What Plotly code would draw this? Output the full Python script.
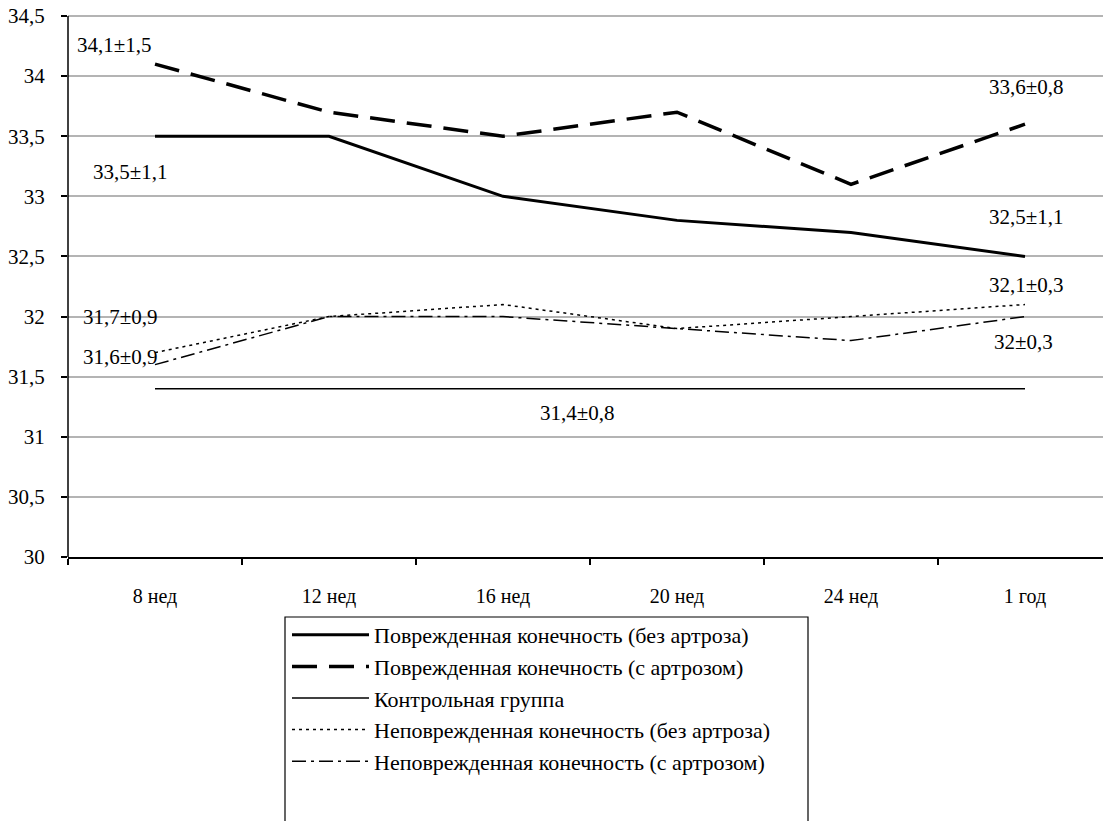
import plotly.graph_objects as go

categories = ["8 нед", "12 нед", "16 нед", "20 нед", "24 нед", "1 год"]
injured_no_arthrosis = [33.5, 33.5, 33.0, 32.8, 32.7, 32.5]
injured_arthrosis = [34.1, 33.7, 33.5, 33.7, 33.1, 33.6]
control_group = [31.4, 31.4, 31.4, 31.4, 31.4, 31.4]
uninjured_no_arthrosis = [31.7, 32.0, 32.1, 31.9, 32.0, 32.1]
uninjured_arthrosis = [31.6, 32.0, 32.0, 31.9, 31.8, 32.0]

series_names = [
    "Поврежденная конечность (без артроза)",
    "Поврежденная конечность (с артрозом)",
    "Контрольная группа",
    "Неповрежденная конечность (без артроза)",
    "Неповрежденная конечность (с артрозом)",
]

y_tickvals = [30, 30.5, 31, 31.5, 32, 32.5, 33, 33.5, 34, 34.5]
y_ticktext = ["30", "30,5", "31", "31,5", "32", "32,5", "33", "33,5", "34", "34,5"]

label_texts = ["34,1±1,5", "33,5±1,1", "31,7±0,9", "31,6±0,9", "31,4±0,8",
               "33,6±0,8", "32,5±1,1", "32,1±0,3", "32±0,3"]
label_x = [-0.23, -0.14, -0.20, -0.20, 2.43, 5.01, 5.01, 5.01, 4.99]
label_y = [34.26, 33.20, 32.00, 31.66, 31.20, 33.91, 32.83, 32.26, 31.79]

FONT = "Times New Roman, Liberation Serif, serif"

styles = [
    dict(width=3, dash="solid"),
    dict(width=3.5, dash="25px,12px"),
    dict(width=1.5, dash="solid"),
    dict(width=1.5, dash="3px,4px"),
    dict(width=1.5, dash="14px,5px,3px,5px"),
]
all_series = [injured_no_arthrosis, injured_arthrosis, control_group,
              uninjured_no_arthrosis, uninjured_arthrosis]

fig = go.Figure()
xs = list(range(len(categories)))
for name, vals, st in zip(series_names, all_series, styles):
    fig.add_trace(go.Scatter(
        x=xs, y=vals, mode="lines", name=name, legendgroup=name,
        line=dict(color="black", width=st["width"], dash=st["dash"]),
    ))

for t, x, y in zip(label_texts, label_x, label_y):
    fig.add_annotation(x=x, y=y, text=t, showarrow=False,
                       font=dict(family=FONT, size=21, color="black"),
                       xanchor="center", yanchor="middle")

W, H = 1103, 821
YTOP_PX = 14          # plot area top (pixel) — slightly above the 34,5 gridline
PX_PER_UNIT = 120.2
y_top = 34.5 + (16 - YTOP_PX) / PX_PER_UNIT
L = 68
T = YTOP_PX
R = 0
B = H - 557
pw = W - L - R
ph = H - T - B

def px_to_paper_x(p):
    return (p - L) / pw

def py_to_paper_y(p):
    return (H - B - p) / ph

xrange_ = [-0.5, -0.5 + pw / 174.0]

fig.add_shape(type="rect", xref="paper", yref="paper",
              x0=px_to_paper_x(285), x1=px_to_paper_x(808),
              y0=py_to_paper_y(617), y1=py_to_paper_y(850),
              line=dict(color="black", width=1.2), fillcolor="rgba(0,0,0,0)")

fig.update_layout(
    width=W, height=H,
    margin=dict(l=L, r=R, t=T, b=B, pad=0, autoexpand=False),
    paper_bgcolor="white", plot_bgcolor="white",
    separators=", ",
    font=dict(family=FONT, color="black"),
    showlegend=True,
    legend=dict(
        x=px_to_paper_x(287), y=py_to_paper_y(614), xanchor="left", yanchor="top",
        font=dict(family=FONT, size=22, color="black"),
        bgcolor="rgba(0,0,0,0)", borderwidth=0,
        itemwidth=77, tracegroupgap=0, traceorder="normal",
    ),
    xaxis=dict(
        type="linear", range=xrange_, automargin=False,
        tickmode="array", tickvals=xs, ticktext=categories,
        ticks="", showgrid=False, zeroline=False, showline=False,
        tickfont=dict(family=FONT, size=20, color="black"),
        ticklabelstandoff=25,
    ),
    yaxis=dict(
        range=[30, y_top], tickmode="array", tickvals=y_tickvals, ticktext=y_ticktext,
        automargin=False,
        showgrid=True, gridcolor="#b4b4b4", gridwidth=1.5,
        showline=False,
        ticks="outside", ticklen=6, tickcolor="black", tickwidth=1.5,
        zeroline=False, ticklabelstandoff=12, ticklabeloverflow="allow",
        tickfont=dict(family=FONT, size=21, color="black"),
    ),
    xaxis2=dict(
        type="linear", range=xrange_, overlaying="x", automargin=False,
        tickmode="array", tickvals=[i - 0.5 for i in range(len(categories))],
        ticktext=["" for _ in categories],
        ticks="outside", ticklen=6, tickcolor="black", tickwidth=1.5,
        showline=True, linecolor="black", linewidth=2,
        showgrid=False, zeroline=False, side="bottom",
    ),
)
# y-axis line from 30 to 34,5 only
fig.add_shape(type="line", xref="paper", yref="y", x0=0, x1=0, y0=30, y1=34.5,
              line=dict(color="black", width=1.5))
fig.add_trace(go.Scatter(x=[None], y=[None], xaxis="x2", showlegend=False, hoverinfo="skip"))

fig.write_html(
    "out.html",
    config={"displayModeBar": False},
    post_script="document.body.style.margin='0';document.body.style.overflow='hidden';",
)
